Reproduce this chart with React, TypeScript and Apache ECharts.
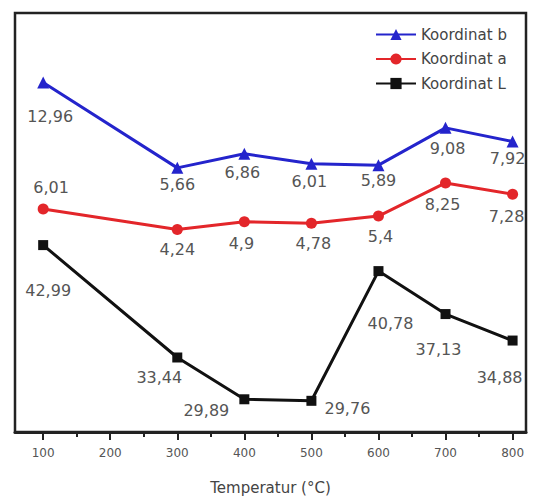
import React, { useEffect, useRef } from "react";
import * as echarts from "echarts";

const temps = [100, 300, 400, 500, 600, 700, 800];
const majorTicks = [100, 200, 300, 400, 500, 600, 700, 800];
const minorTicks = [150, 250, 350, 450, 550, 650, 750];
const koordinatB = [12.96, 5.66, 6.86, 6.01, 5.89, 9.08, 7.92];
const koordinatA = [6.01, 4.24, 4.9, 4.78, 5.4, 8.25, 7.28];
const koordinatL = [42.99, 33.44, 29.89, 29.76, 40.78, 37.13, 34.88];

// label offsets (style, not data)
const offB = [[7, 34], [0, 17], [-2, 19], [-2, 18], [0, 15], [2, 21], [-5, 17]];
const offA = [[8, -21], [0, 20], [-3, 22], [2, 20], [2, 20], [-3, 22], [-6, 22]];
const offL = [[5, 45], [-18, 20], [-38, 11], [36, 8], [12, 52], [-7, 35], [-13, 37]];

const FONT = "DejaVu Sans";

function build(vals: number[], offs: number[][]) {
  return vals.map((v, i) => ({
    value: [temps[i], v],
    label: { offset: offs[i] },
  }));
}

export default function App() {
  const ref = useRef<HTMLDivElement>(null);
  useEffect(() => {
    if (!ref.current) return;
    const chart = echarts.init(ref.current, undefined, { renderer: "svg" });
    const labelCommon = {
      show: true,
      position: "inside" as const,
      fontFamily: FONT,
      fontSize: 16,
      color: "#555",
      formatter: (p: any) => String(p.value[1]).replace(".", ","),
    };
    chart.setOption({
      animation: false,
      backgroundColor: "#fff",
      grid: {
        left: 15,
        right: 11,
        top: 13,
        bottom: 67,
        show: true,
        borderColor: "#222",
        borderWidth: 2.5,
        backgroundColor: "#fff",
      },
      legend: {
        orient: "vertical",
        left: 370,
        top: 22,
        itemWidth: 40,
        itemHeight: 14,
        itemGap: 9.5,
        textStyle: { fontFamily: FONT, fontSize: 15, color: "#444" },
        data: ["Koordinat b", "Koordinat a", "Koordinat L"],
      },
      xAxis: [
        {
          type: "value",
          min: 58,
          max: 820,
          position: "bottom",
          axisLine: { show: true, onZero: false, lineStyle: { color: "#222", width: 3 } },
          axisTick: {
            show: true,
            customValues: majorTicks,
            length: 8,
            lineStyle: { color: "#222", width: 2 },
          },
          axisLabel: {
            show: true,
            customValues: majorTicks,
            fontFamily: FONT,
            fontSize: 12,
            color: "#555",
            margin: 15,
          },
          splitLine: { show: false },
          name: "Temperatur (°C)",
          nameLocation: "middle",
          nameGap: 48,
          nameTextStyle: { fontFamily: FONT, fontSize: 15, color: "#444" },
        },
        {
          type: "value",
          min: 58,
          max: 820,
          position: "bottom",
          axisLine: { show: false, onZero: false },
          axisTick: {
            show: true,
            customValues: minorTicks,
            length: 5,
            lineStyle: { color: "#222", width: 2 },
          },
          axisLabel: { show: false },
          splitLine: { show: false },
        },
      ],
      yAxis: [
        { type: "value", min: -16.92, max: 18.9, show: false, splitLine: { show: false } },
        { type: "value", min: -13.18, max: 22.87, show: false, splitLine: { show: false } },
        { type: "value", min: 27.11, max: 62.71, show: false, splitLine: { show: false } },
      ],
      series: [
        {
          name: "Koordinat b",
          type: "line",
          yAxisIndex: 0,
          data: build(koordinatB, offB),
          symbol: "triangle",
          symbolSize: 12,
          lineStyle: { color: "#2424cc", width: 3 },
          itemStyle: { color: "#2424cc" },
          label: labelCommon,
        },
        {
          name: "Koordinat a",
          type: "line",
          yAxisIndex: 1,
          data: build(koordinatA, offA),
          symbol: "circle",
          symbolSize: 11,
          lineStyle: { color: "#e3262a", width: 3 },
          itemStyle: { color: "#e3262a" },
          label: labelCommon,
        },
        {
          name: "Koordinat L",
          type: "line",
          yAxisIndex: 2,
          data: build(koordinatL, offL),
          symbol: "rect",
          symbolSize: 10,
          lineStyle: { color: "#111", width: 3 },
          itemStyle: { color: "#111" },
          label: labelCommon,
        },
      ],
    });
    return () => chart.dispose();
  }, []);
  return (
    <div
      ref={ref}
      style={{ position: "fixed", left: 0, top: 0, width: 537, height: 500 }}
    />
  );
}
